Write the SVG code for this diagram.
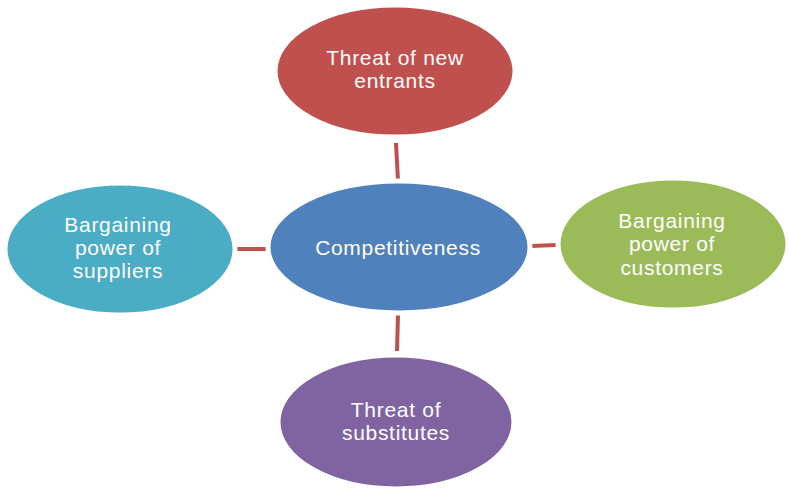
<svg xmlns="http://www.w3.org/2000/svg" width="788" height="492" viewBox="0 0 788 492">
<style>
.node ellipse{stroke:#ffffff;stroke-width:3}
.halo{fill:none;stroke:#e4e4e4;stroke-width:1}
.label{font-family:"Liberation Sans",Arial,sans-serif;font-size:21px;letter-spacing:0.7px;fill:#ffffff;text-anchor:middle}
.conn line{stroke:#C0504D;stroke-width:4;stroke-linecap:butt}
</style>
<rect width="788" height="492" fill="#ffffff"/>
<g id="connectors" class="conn">
<line x1="396" y1="143" x2="398" y2="181"/>
<line x1="398" y1="315" x2="397" y2="351"/>
<line x1="237" y1="249" x2="266" y2="249"/>
<line x1="531" y1="246" x2="556" y2="245"/>
</g>
<g id="node-new-entrants" class="node">
<ellipse class="halo" cx="395" cy="71" rx="121" ry="67"/>
<ellipse cx="395" cy="71" rx="119" ry="65" fill="#C0504D"/>
<text class="label" x="395" y="65">Threat of new</text>
<text class="label" x="395" y="88">entrants</text>
</g>
<g id="node-competitiveness" class="node">
<ellipse class="halo" cx="399" cy="247" rx="132" ry="67"/>
<ellipse cx="399" cy="247" rx="130" ry="65" fill="#4F81BD"/>
<text class="label" x="398" y="255">Competitiveness</text>
</g>
<g id="node-suppliers" class="node">
<ellipse class="halo" cx="120" cy="249" rx="116" ry="67"/>
<ellipse cx="120" cy="249" rx="114" ry="65" fill="#4BACC6"/>
<text class="label" x="118" y="232">Bargaining</text>
<text class="label" x="118" y="255">power of</text>
<text class="label" x="118" y="278">suppliers</text>
</g>
<g id="node-customers" class="node">
<ellipse class="halo" cx="673" cy="244" rx="116" ry="67"/>
<ellipse cx="673" cy="244" rx="114" ry="65" fill="#9BBB59"/>
<text class="label" x="672" y="228">Bargaining</text>
<text class="label" x="672" y="251">power of</text>
<text class="label" x="672" y="275">customers</text>
</g>
<g id="node-substitutes" class="node">
<ellipse class="halo" cx="396" cy="422" rx="119" ry="68"/>
<ellipse cx="396" cy="422" rx="117" ry="66" fill="#8064A2"/>
<text class="label" x="396" y="417">Threat of</text>
<text class="label" x="396" y="440">substitutes</text>
</g>
</svg>
